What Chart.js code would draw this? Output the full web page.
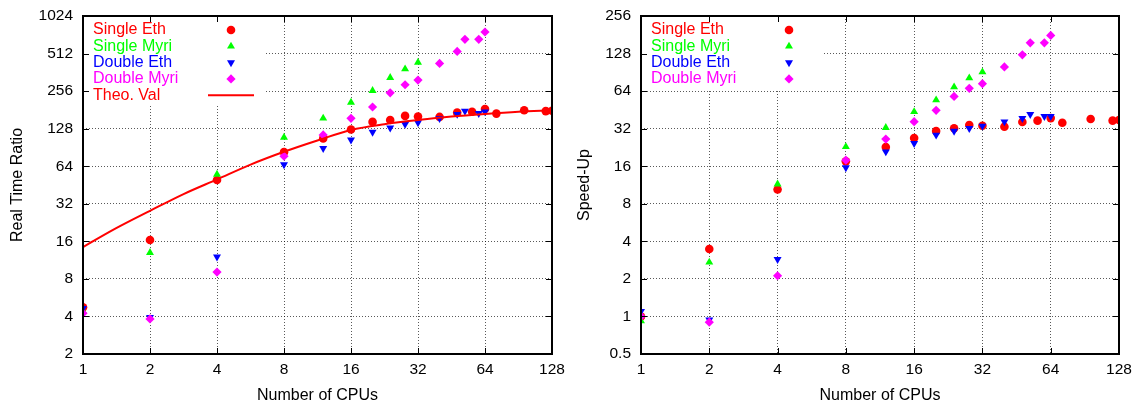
<!DOCTYPE html>
<html>
<head>
<meta charset="utf-8">
<script src="https://cdn.jsdelivr.net/npm/chart.js@4.4.1/dist/chart.umd.min.js"></script>
<style>
  html, body { margin: 0; padding: 0; background: #fff; }
  #wrap { position: relative; width: 1135px; height: 405px; }
  .box { position: absolute; top: 0; height: 405px; }
</style>
</head>
<body>
<div id="wrap">
  <div class="box" style="left:0;width:567px"><canvas id="ratio"></canvas></div>
  <div class="box" style="left:567px;width:568px"><canvas id="speedup"></canvas></div>
</div>
<script>
// 數值皆由原圖估讀（log2 座標）
const xTicks = [1, 2, 4, 8, 16, 32, 64, 128];
const yTicksRatio = [2, 4, 8, 16, 32, 64, 128, 256, 512, 1024];
const yTicksSpeedup = [0.5, 1, 2, 4, 8, 16, 32, 64, 128, 256];

const cpusSingleEth = [1, 2, 4, 8, 12, 16, 20, 24, 28, 32, 40, 48, 56, 64, 72, 96, 120, 128];
const ratioSingleEth = [4.73, 16.4, 49.6, 83, 107, 126, 145, 150, 162, 160, 159, 172, 175, 184, 169, 180, 177, 178];
const speedupSingleEth = [1.0, 3.47, 10.4, 17.5, 22.8, 26.9, 30.6, 32.2, 34.2, 33.8, 33.2, 36.2, 37.1, 38.9, 35.7, 38.2, 37.1, 37.5];

const cpusSingleMyri = [1, 2, 4, 8, 12, 16, 20, 24, 28, 32];
const ratioSingleMyri = [4.4, 13.0, 55, 109, 155, 208, 258, 328, 385, 435];
const speedupSingleMyri = [0.92, 2.72, 11.5, 22.9, 32.6, 43.7, 54.3, 69, 81.5, 91];

const cpusDouble = [1, 2, 4, 8, 12, 16, 20, 24, 28, 32, 40, 48, 52, 60, 64];
const ratioDoubleEth = [4.65, 3.94, 12.0, 66, 89, 104, 120, 130, 139, 143, 155, 167, 177, 170, 175];
const speedupDoubleEth = [1.1, 0.94, 2.87, 15.6, 20.9, 24.4, 28.5, 30.6, 32.2, 33.6, 36.4, 38.7, 41.7, 40.2, 40.2];
const ratioDoubleMyri = [4.24, 3.82, 9.08, 77, 114, 155, 191, 248, 288, 314, 427, 533, 666, 666, 762];
const speedupDoubleMyri = [1.0, 0.90, 2.12, 17.9, 26.4, 36.4, 44.9, 58, 67.4, 73.4, 100, 125, 156, 156, 179];

// 理論值曲線（沿原圖紅線讀點）
const cpusTheo = [1, 1.41, 2, 2.83, 4, 5.66, 8, 11.3, 16, 22.6, 32, 45.3, 64, 90.5, 128];
const ratioTheo = [14.4, 20.4, 28.1, 38.3, 50.2, 66, 83.6, 103, 125, 139, 150, 160, 168, 175, 180];

const FONT = "'Liberation Sans', Arial, sans-serif";
const zip = (xs, ys) => xs.map((x, i) => ({ x, y: ys[i] }));

const mkPoints = (label, data, color, style, rotation, order) => ({
  label, data, order,
  showLine: false,
  backgroundColor: color,
  borderColor: color,
  borderWidth: 0,
  pointStyle: style,
  pointRotation: rotation,
  pointRadius: style === 'circle' ? 4.3 : 4.6,
  pointHoverRadius: 5,
});

// gnuplot 風格圖例：白底遮格線、彩色文字、右側符號
const keyPlugin = {
  id: 'key',
  beforeDatasetsDraw(chart) {
    const { ctx, chartArea: a } = chart;
    const n = chart.data.datasets.length;
    ctx.save();
    ctx.fillStyle = '#fff';
    ctx.fillRect(a.left + 1, a.top + 1, 181, 7 + n * 16.3);
    ctx.font = `16px ${FONT}`;
    ctx.textBaseline = 'middle';
    ctx.textAlign = 'left';
    chart.data.datasets.forEach((ds, i) => {
      const yy = a.top + 14 + i * 16.3;
      ctx.fillStyle = ds.borderColor;
      ctx.fillText(ds.label, a.left + 10, yy);
      const mx = a.left + 148;
      if (ds.showLine === false) {
        ctx.fillStyle = ds.backgroundColor;
        ctx.strokeStyle = ds.borderColor;
        Chart.helpers.drawPoint(ctx, {
          pointStyle: ds.pointStyle, rotation: ds.pointRotation || 0,
          radius: ds.pointRadius, borderWidth: 0,
        }, mx, yy);
      } else {
        ctx.strokeStyle = ds.borderColor;
        ctx.lineWidth = 2;
        ctx.beginPath();
        ctx.moveTo(a.left + 125, yy);
        ctx.lineTo(a.left + 171, yy);
        ctx.stroke();
      }
    });
    ctx.restore();
  },
};

// 外框與向內刻度
const framePlugin = {
  id: 'frame',
  afterDraw(chart) {
    const { ctx, chartArea: a, scales: { x, y } } = chart;
    ctx.save();
    ctx.strokeStyle = '#000';
    ctx.lineWidth = 1;
    ctx.beginPath();
    x.ticks.forEach((t) => {
      const px = Math.round(x.getPixelForValue(t.value)) + 0.5;
      ctx.moveTo(px, a.bottom); ctx.lineTo(px, a.bottom - 6);
      ctx.moveTo(px, a.top); ctx.lineTo(px, a.top + 6);
    });
    y.ticks.forEach((t) => {
      const py = Math.round(y.getPixelForValue(t.value)) + 0.5;
      ctx.moveTo(a.left, py); ctx.lineTo(a.left + 6, py);
      ctx.moveTo(a.right, py); ctx.lineTo(a.right - 6, py);
    });
    ctx.stroke();
    ctx.lineWidth = 2;
    ctx.strokeRect(a.left, a.top, a.right - a.left, a.bottom - a.top);
    ctx.restore();
  },
};

function makeChart(canvas, datasets, yTicks, yTitle, yWidth, padRight) {
  return new Chart(canvas, {
    type: 'scatter',
    data: { datasets },
    options: {
      responsive: true,
      maintainAspectRatio: false,
      animation: false,
      layout: { padding: { left: 0, top: 16, right: padRight, bottom: 0 } },
      plugins: { legend: { display: false }, tooltip: { enabled: false } },
      scales: {
        x: {
          type: 'logarithmic',
          min: 1, max: 128,
          afterBuildTicks: (s) => { s.ticks = xTicks.map((v) => ({ value: v })); },
          afterFit: (s) => { s.height = 51; s.paddingLeft = 0; s.paddingRight = 0; },
          ticks: {
            color: '#000', padding: 6, maxRotation: 0, autoSkip: false,
            font: { family: FONT, size: 15.5 },
            callback: (v) => String(v),
          },
          grid: { drawTicks: false, color: 'rgba(0,0,0,0.65)', lineWidth: 1 },
          border: { display: false, dash: [1, 2] },
          title: {
            display: true, text: 'Number of CPUs', color: '#000',
            font: { family: FONT, size: 16 }, padding: { top: 0, bottom: 0 },
          },
        },
        y: {
          type: 'logarithmic',
          min: yTicks[0], max: yTicks[yTicks.length - 1],
          afterBuildTicks: (s) => { s.ticks = yTicks.map((v) => ({ value: v })); },
          afterFit: (s) => { s.width = yWidth; s.paddingTop = 0; s.paddingBottom = 0; },
          ticks: {
            color: '#000', padding: 10, autoSkip: false,
            font: { family: FONT, size: 15.5 },
            callback: (v) => String(v),
          },
          grid: { drawTicks: false, color: 'rgba(0,0,0,0.65)', lineWidth: 1 },
          border: { display: false, dash: [1, 2] },
          title: {
            display: true, text: yTitle, color: '#000',
            font: { family: FONT, size: 16 }, padding: { top: 8, bottom: 0 },
          },
        },
      },
    },
    plugins: [keyPlugin, framePlugin],
  });
}

const RED = '#ff0000', GREEN = '#00ff00', BLUE = '#0000ff', MAGENTA = '#ff00ff';

makeChart(document.getElementById('ratio'), [
  mkPoints('Single Eth', zip(cpusSingleEth, ratioSingleEth), RED, 'circle', 0, 5),
  mkPoints('Single Myri', zip(cpusSingleMyri, ratioSingleMyri), GREEN, 'triangle', 0, 4),
  mkPoints('Double Eth', zip(cpusDouble, ratioDoubleEth), BLUE, 'triangle', 180, 3),
  mkPoints('Double Myri', zip(cpusDouble, ratioDoubleMyri), MAGENTA, 'rectRot', 0, 2),
  {
    label: 'Theo. Val', data: zip(cpusTheo, ratioTheo), order: 1,
    showLine: true, borderColor: RED, backgroundColor: RED, borderWidth: 2,
    pointRadius: 0, cubicInterpolationMode: 'monotone',
  },
], yTicksRatio, 'Real Time Ratio', 83, 15);

makeChart(document.getElementById('speedup'), [
  mkPoints('Single Eth', zip(cpusSingleEth, speedupSingleEth), RED, 'circle', 0, 5),
  mkPoints('Single Myri', zip(cpusSingleMyri, speedupSingleMyri), GREEN, 'triangle', 0, 4),
  mkPoints('Double Eth', zip(cpusDouble, speedupDoubleEth), BLUE, 'triangle', 180, 3),
  mkPoints('Double Myri', zip(cpusDouble, speedupDoubleMyri), MAGENTA, 'rectRot', 0, 2),
], yTicksSpeedup, 'Speed-Up', 74, 16);
</script>
</body>
</html>
